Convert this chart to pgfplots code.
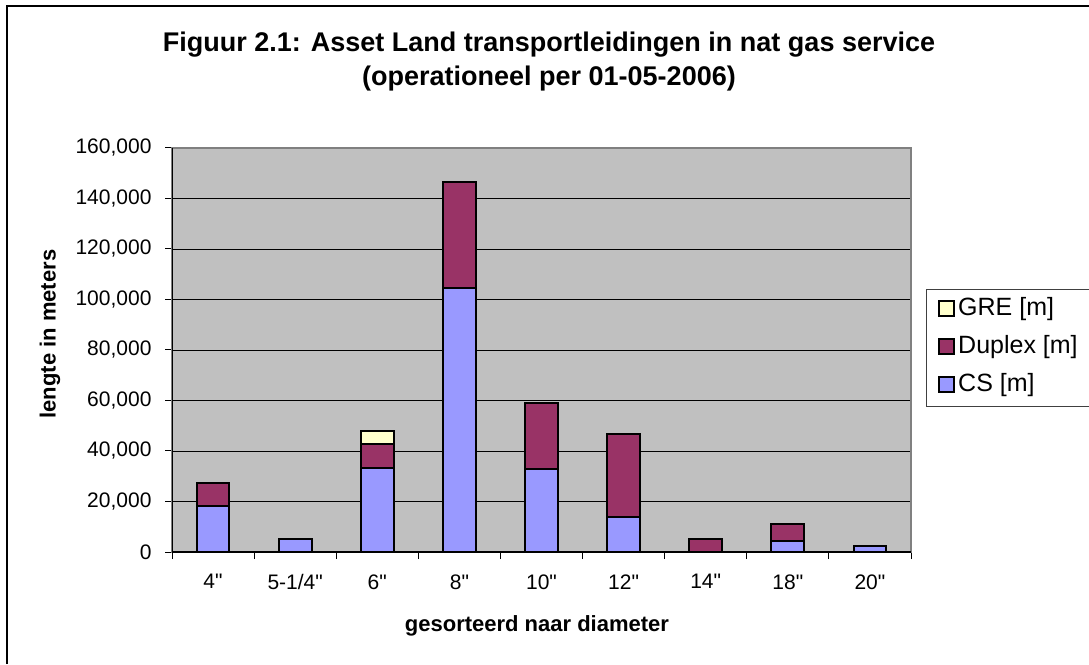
\documentclass[border=0pt]{standalone}
\usepackage{fontspec}
\setmainfont{Liberation Sans}[Ligatures=TeXOff]
\usepackage{pgfplots}
\usepackage{pgfplotstable}
\pgfplotsset{compat=1.18}
\definecolor{csblue}{HTML}{9999FF}
\definecolor{duplexc}{HTML}{993366}
\definecolor{grec}{HTML}{FFFFCC}
\definecolor{plotgray}{HTML}{C0C0C0}
\definecolor{boxgray}{HTML}{808080}

\pgfplotstableread{
x CS Duplex GRE
0 18300 9200 0
1 5000 0 0
2 33100 9700 5000
3 104700 41800 0
4 33000 25900 0
5 14000 32700 0
6 0 5300 0
7 4300 6700 0
8 2300 0 0
}\datatable

\begin{document}
\begin{tikzpicture}
\useasboundingbox (0pt,0pt) rectangle (1089pt,664pt);
\draw[line width=2pt] (6.5pt,0pt) -- (6.5pt,657.5pt) -- (1089pt,657.5pt);
\node[font=\bfseries\fontsize{27}{32}\selectfont, anchor=base] at (549pt,612.3pt) {Figuur 2.1: Asset Land transportleidingen in nat gas service};
\node[font=\bfseries\fontsize{27}{32}\selectfont, anchor=base] at (549pt,578pt) {(operationeel per 01-05-2006)};
\begin{axis}[
  at={(172pt,112pt)}, anchor=south west,
  scale only axis, width=739pt, height=404pt,
  ybar stacked, bar width=0.4,
  xmin=-0.5, xmax=8.5, ymin=0, ymax=160000,
  ytick={0,20000,...,160000},
  xtick={0,...,8},
  xticklabels={4",5-1/4",6",8",10",12",14",18",20"},
  minor xtick={-0.5,0.5,...,8.5},
  major x tick style={draw=none},
  tick pos=left,
  tick align=outside,
  major tick length=7pt, minor tick length=7pt,
  tick style={black, line width=1pt},
  axis background/.style={fill=plotgray},
  axis line style={boxgray, line width=1.5pt},
  ymajorgrids,
  major grid style={black, line width=0.8pt},
  scaled y ticks=false,
  /pgf/number format/assume math mode=true,
  /pgf/number format/fixed,
  /pgf/number format/1000 sep={,},
  tick label style={font=\fontsize{21}{25}\selectfont},
  yticklabel style={xshift=-10pt},
  xticklabel style={yshift=-12pt},
  xlabel={gesorteerd naar diameter},
  ylabel={lengte in meters},
  xlabel style={font=\bfseries\fontsize{22}{26}\selectfont, at={(axis description cs:0.4939,-0.198)}, anchor=base},
  ylabel style={font=\bfseries\fontsize{22}{26}\selectfont, at={(axis description cs:-0.1650,0.5396)}, anchor=center},
  legend style={at={(axis description cs:1.0203,0.651)}, anchor=north west,
    draw=black!75, line width=0.8pt,
    font=\fontsize{25}{29}\selectfont,
    inner xsep=12pt, inner ysep=9pt,
    row sep=15pt, column sep=3pt,
    nodes={inner sep=0pt, text height=17pt, text depth=6pt}},
  legend cell align=left,
  reverse legend,
  legend image code/.code={\draw[#1, line width=1.8pt] (0pt,-6.5pt) rectangle (15pt,8.5pt);},
]
\addplot[fill=csblue, draw=black, line width=2pt] table[x=x, y=CS] {\datatable};
\addlegendentry{CS [m]}
\addplot[fill=duplexc, draw=black, line width=2pt] table[x=x, y=Duplex] {\datatable};
\addlegendentry{Duplex [m]}
\addplot[fill=grec, draw=black, line width=2pt] table[x=x, y=GRE] {\datatable};
\addlegendentry{GRE [m]}
\draw[black, line width=1.2pt] (rel axis cs:0,0) -- (rel axis cs:1,0);
\draw[black, line width=1.2pt] (rel axis cs:0,0) -- (rel axis cs:0,1);
\end{axis}
\end{tikzpicture}
\end{document}
